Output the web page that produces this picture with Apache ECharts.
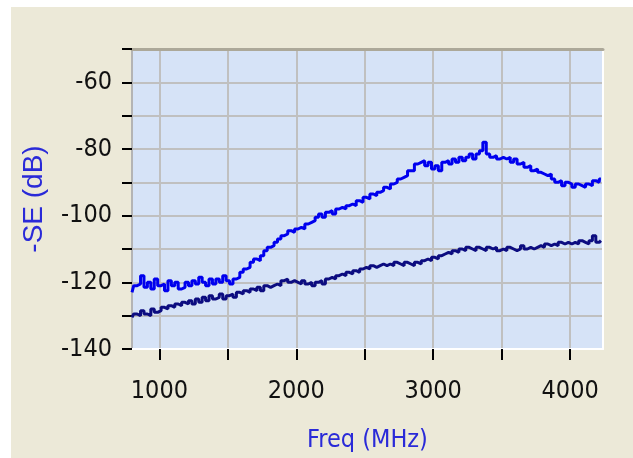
<!DOCTYPE html>
<html>
<head>
<meta charset="utf-8">
<script src="https://cdn.jsdelivr.net/npm/echarts@6/dist/echarts.min.js"></script>
<style>
html,body{margin:0;padding:0;background:#ffffff;}
#panel{position:absolute;left:11px;top:7px;width:622px;height:451px;background:#ece9d8;}
#chart{position:absolute;left:0;top:0;width:633px;height:458px;}
</style>
</head>
<body>
<div id="panel"></div>
<div id="chart"></div>
<script>
// ---- data ----
const freqMHz = [
  800,825,850,875,900,925,950,975,1000,
  1025,1050,1075,1100,1125,1150,1175,1200,
  1225,1250,1275,1300,1325,1350,1375,1400,
  1425,1450,1475,1500,1525,1550,1575,1600,
  1625,1650,1675,1700,1725,1750,1775,1800,
  1825,1850,1875,1900,1925,1950,1975,2000,
  2025,2050,2075,2100,2125,2150,2175,2200,
  2225,2250,2275,2300,2325,2350,2375,2400,
  2425,2450,2475,2500,2525,2550,2575,2600,
  2625,2650,2675,2700,2725,2750,2775,2800,
  2825,2850,2875,2900,2925,2950,2975,3000,
  3025,3050,3075,3100,3125,3150,3175,3200,
  3225,3250,3275,3300,3325,3350,3375,3400,
  3425,3450,3475,3500,3525,3550,3575,3600,
  3625,3650,3675,3700,3725,3750,3775,3800,
  3825,3850,3875,3900,3925,3950,3975,4000,
  4025,4050,4075,4100,4125,4150,4175,4200,
  4225
];
const seUpper = [
  -123,-121,-120.5,-118,-121.5,-120,-122,-119,-121,
  -120.5,-122.5,-119.5,-121,-120,-122,-121.5,-120,
  -121,-119.5,-120.5,-118.5,-120,-121,-119,-120.5,
  -119,-120,-118,-119.5,-120.5,-119,-118.5,-117,
  -116,-115.5,-114,-113,-113.5,-112,-110.5,-109.5,
  -109,-108,-107,-106,-105.5,-104.5,-105,-104,
  -103.5,-104,-102.5,-102,-101.5,-100.5,-99.5,-100.5,
  -99,-98.5,-99.5,-98,-97.5,-98,-97,-96.5,
  -97,-95.5,-96,-94.5,-95,-93.5,-94,-93,
  -92.5,-91.5,-92,-90.5,-90,-89,-88.5,-88,
  -86.5,-86.5,-84.5,-84,-83.5,-85,-84,-86,
  -85,-86.5,-84,-83.5,-84.5,-83,-84,-82.5,
  -83.5,-82.5,-81.5,-83,-81.5,-80.5,-78,-81.5,
  -82.5,-82,-83,-82.5,-83,-82.5,-84,-83,
  -84.5,-84,-85.5,-85,-86.5,-86,-87,-87.5,
  -88,-87.5,-89,-90,-89.5,-91,-90,-90.5,
  -91.5,-90.5,-91,-91.5,-90.5,-91,-89.5,-90,
  -89
];
const seLower = [
  -130.5,-129.5,-130,-128.5,-129.5,-130,-128,-129,-128.5,
  -127.5,-128,-127,-127.5,-126.5,-127,-126,-126.5,
  -125.5,-126.5,-125,-126,-124.5,-125.5,-124,-125,
  -124.5,-123.5,-125,-124,-123.5,-124.5,-123,-123.5,
  -122.5,-123,-122,-122.5,-121.5,-122.5,-121,-121.5,
  -121,-120.5,-121,-119.5,-119,-120,-119.5,-120,
  -120.5,-119.5,-120.5,-120,-121,-120,-119.5,-120.5,
  -119,-118.5,-119,-118,-117.5,-118,-117,-117.5,
  -116.5,-117,-116,-115.5,-116,-115,-115.5,-115,
  -114.5,-115,-114.5,-115,-114,-114.5,-115,-114,
  -114.5,-115,-114,-114.5,-113.5,-113,-113.5,-112.5,
  -113,-112,-111.5,-111,-111.5,-110.5,-111,-110,
  -110.5,-109.5,-110,-110.5,-109.5,-110,-110.5,-109.5,
  -110,-109.5,-110.5,-110,-110.5,-109.5,-110,-110.5,
  -110,-109,-110,-109.5,-110,-109.5,-109,-109.5,
  -108.5,-109,-108.5,-109,-108,-108.5,-108,-108.5,
  -108,-108.5,-107.5,-108,-108.5,-107.5,-106,-108,
  -107.5
];
const xTickValues = [1000,1500,2000,2500,3000,3500,4000];
const xLabelValues = [1000,2000,3000,4000];
const xName = 'Freq (MHz)';
const yName = '-SE (dB)';

// ---- font detection (narrow face if installed) ----
function hasFont(name){
  const c = document.createElement('canvas').getContext('2d');
  c.font = '40px monospace';
  const a = c.measureText('1000 Freq (MHz)').width;
  c.font = "40px '" + name + "', monospace";
  return c.measureText('1000 Freq (MHz)').width !== a;
}
let labelFont = 'Liberation Sans', labelSize = 23;
if (hasFont('Liberation Sans Narrow')) { labelFont = 'Liberation Sans Narrow'; labelSize = 27; }
else if (hasFont('DejaVu Sans Condensed')) { labelFont = 'DejaVu Sans Condensed'; labelSize = 25; }

const toPairs = (xs, ys) => xs.map((x, i) => [x, ys[i]]);

const chart = echarts.init(document.getElementById('chart'), null, {renderer: 'canvas'});
chart.setOption({
  backgroundColor: 'transparent',
  animation: false,
  grid: {left: 132, right: 30, top: 49, bottom: 108, show: true,
         backgroundColor: '#d6e3f7', borderWidth: 0},
  xAxis: [{
    type: 'value', min: 800, max: 4240,
    name: xName, nameLocation: 'middle', nameGap: 79,
    nameTextStyle: {color: '#2a2ad8', fontFamily: labelFont, fontSize: labelSize},
    axisLine: {show: true, onZero: false, lineStyle: {color: '#ffffff', width: 2}},
    axisTick: {show: true, length: 11, customValues: xTickValues,
               lineStyle: {color: '#000000', width: 2}},
    axisLabel: {show: true, customValues: xLabelValues, margin: 30,
                color: '#111111', fontFamily: labelFont, fontSize: labelSize,
                showMinLabel: true, showMaxLabel: true,
                formatter: v => (v % 1000 === 0 ? String(v) : '')},
    splitLine: {show: true, lineStyle: {color: '#c0c0c0', width: 2}}
  }, {
    type: 'value', min: 800, max: 4240, position: 'top',
    axisLine: {show: true, onZero: false, lineStyle: {color: '#aca899', width: 3}},
    axisTick: {show: false}, axisLabel: {show: false}, splitLine: {show: false}
  }],
  yAxis: [{
    type: 'value', min: -140, max: -50, interval: 10,
    name: yName, nameLocation: 'middle', nameGap: 84, nameRotate: 90,
    nameTextStyle: {color: '#2a2ad8', fontFamily: 'Liberation Sans', fontSize: 28},
    axisLine: {show: true, onZero: false, lineStyle: {color: '#b4b4b4', width: 2}},
    axisTick: {show: true, length: 10, lineStyle: {color: '#000000', width: 2}},
    axisLabel: {show: true, margin: 20, color: '#111111',
                fontFamily: labelFont, fontSize: labelSize,
                formatter: v => (v % 20 === 0 ? String(v) : '')},
    splitLine: {show: true, lineStyle: {color: '#c0c0c0', width: 2}}
  }, {
    type: 'value', min: -140, max: -50, position: 'right',
    axisLine: {show: true, onZero: false, lineStyle: {color: '#ffffff', width: 2}},
    axisTick: {show: false}, axisLabel: {show: false}, splitLine: {show: false}
  }],
  series: [{
    type: 'line', name: 'upper', data: toPairs(freqMHz, seUpper),
    step: 'middle', showSymbol: false, symbol: 'none',
    lineStyle: {color: '#0000ee', width: 3}, z: 3
  }, {
    type: 'line', name: 'lower', data: toPairs(freqMHz, seLower),
    step: 'middle', showSymbol: false, symbol: 'none',
    lineStyle: {color: '#0c0c80', width: 3}, z: 3
  }]
});
</script>
</body>
</html>
